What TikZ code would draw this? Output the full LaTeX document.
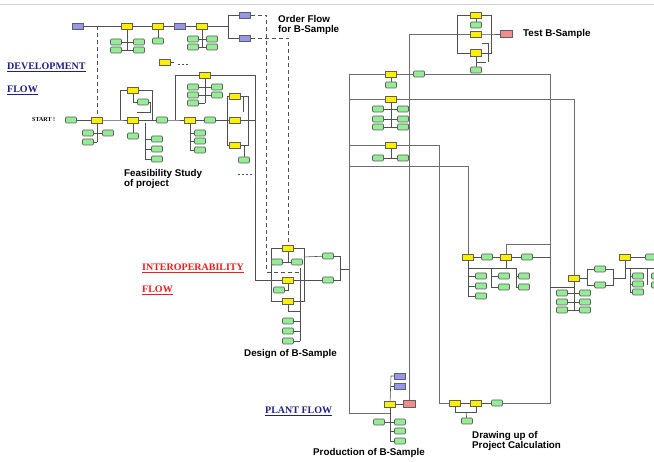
\documentclass[tikz,border=0pt]{standalone}
\usepackage{fontspec}
\newfontfamily\lsans{Liberation Sans}
\newfontfamily\lserif{Liberation Serif}
\usetikzlibrary{backgrounds}
\definecolor{ylw}{RGB}{255,240,0}
\definecolor{grn}{RGB}{150,235,150}
\definecolor{blu}{RGB}{150,150,235}
\definecolor{pnk}{RGB}{240,140,140}
\definecolor{edg}{RGB}{95,95,95}
\definecolor{lnc}{RGB}{80,80,80}
\definecolor{spc}{RGB}{110,110,110}
\definecolor{dblue}{RGB}{30,30,140}
\definecolor{fred}{RGB}{240,30,30}
\tikzset{
 box/.style={draw=edg, line width=.7pt, minimum width=11pt, minimum height=6pt, inner sep=0pt, outer sep=0pt},
 yb/.style={box, fill=ylw},
 gb/.style={box, fill=grn, rounded corners=1pt},
 bb/.style={box, fill=blu},
 pb/.style={box, fill=pnk, minimum width=12pt, minimum height=7pt},
 ln/.style={draw=lnc, line width=.6pt},
 sp/.style={draw=spc, line width=.9pt},
 dl/.style={draw=lnc, line width=.7pt, dash pattern=on 4pt off 3pt},
 lbl/.style={font=\lsans\bfseries\fontsize{9.8}{10.5}\selectfont, align=left, inner sep=0pt, anchor=west},
 flowtxt/.style={font=\lserif\bfseries\fontsize{10}{12}\selectfont, inner sep=0pt, anchor=west},
}
\begin{document}
\begin{tikzpicture}[x=1pt,y=-1pt]
\useasboundingbox (0,0) rectangle (654,462);

% ---------- texts ----------
\node[flowtxt, text=dblue] (tdev) at (7,67) {\underline{DEVELOPMENT}};
\node[flowtxt, text=dblue] (tdevf) at (7,90) {\underline{FLOW}};
\node[flowtxt, text=fred] (tint) at (142,268) {\underline{INTEROPERABILITY}};
\node[flowtxt, text=fred] (tintf) at (142,290) {\underline{FLOW}};
\node[flowtxt, text=dblue] (tplant) at (265,411) {\underline{PLANT FLOW}};
\node[font=\lserif\bfseries\fontsize{6}{6}\selectfont, inner sep=0pt, anchor=west] (start) at (32,120) {START !};
\node[lbl] (tord) at (278,25) {Order Flow\\for B-Sample};
\node[lbl] (tfeas) at (124,179) {Feasibility Study\\of project};
\node[lbl] (ttest) at (523,34) {Test B-Sample};
\node[lbl] (tdes) at (244,354) {Design of B-Sample};
\node[lbl] (tprod) at (313,453) {Production of B-Sample};
\node[lbl] (tdraw) at (472,441) {Drawing up of\\Project Calculation};

% ---------- top order chain ----------
\node[bb] (b1) at (78,26) {};
\node[yb] (y1) at (127,26) {};
\node[yb] (y2) at (158,26) {};
\node[bb] (b2) at (180,26) {};
\node[yb] (y3) at (202,26) {};
\node[bb] (b3) at (245,15) {};
\node[bb] (b4) at (245,38) {};
\node[gb] (g1a) at (116,42) {};
\node[gb] (g1b) at (116,50) {};
\node[gb] (g1c) at (139,42) {};
\node[gb] (g1d) at (139,50) {};
\node[gb] (g2) at (158,41) {};
\node[gb] (g3a) at (193,39) {};
\node[gb] (g3b) at (193,47) {};
\node[gb] (g3c) at (212,39) {};
\node[gb] (g3d) at (212,47) {};
\coordinate (j0) at (97,26);
\coordinate (j1) at (228,26);

% ---------- development main ----------
\node[gb] (g0) at (71,120) {};
\node[yb] (s2) at (97,120) {};
\node[gb] (s2a) at (88,133) {};
\node[gb] (s2b) at (88,142) {};
\node[gb] (s2c) at (108,133) {};
\node[yb] (a1) at (133,90) {};
\node[yb] (a2) at (133,120) {};
\node[gb] (a3) at (133,136) {};
\node[gb] (a4) at (143,102) {};
\node[gb] (a5) at (157,139) {};
\node[gb] (a6) at (157,149) {};
\node[gb] (a7) at (157,159) {};
\node[gb] (a8) at (162,120) {};
\node[yb] (c0) at (165,62) {};
\node[yb] (c1) at (205,75) {};
\node[gb] (c1a) at (193,87) {};
\node[gb] (c1b) at (193,95) {};
\node[gb] (c1c) at (193,103) {};
\node[gb] (c1d) at (217,87) {};
\node[gb] (c1e) at (217,95) {};
\node[yb] (c2) at (190,120) {};
\node[gb] (c2a) at (200,133) {};
\node[gb] (c2b) at (200,141) {};
\node[gb] (c2c) at (200,150) {};
\node[gb] (c3) at (210,120) {};
\node[yb] (c4) at (235,96) {};
\node[yb] (c5) at (235,120) {};
\node[yb] (c6) at (235,145) {};
\node[gb] (c7) at (244,160) {};
\coordinate (j2) at (120,120);
\coordinate (j3) at (175,120);
\coordinate (j4) at (227,120);

% ---------- design cluster ----------
\node[yb] (D1) at (288,248) {};
\node[gb] (Dg1) at (277,262) {};
\node[gb] (Dg2) at (297,262) {};
\node[yb] (D2) at (288,280) {};
\node[gb] (Dg3) at (279,290) {};
\node[yb] (D3) at (288,301) {};
\node[gb] (Dg4) at (288,321) {};
\node[gb] (Dg5) at (288,331) {};
\node[gb] (Dg6) at (288,341) {};
\node[gb] (Eg1) at (328,256) {};
\node[gb] (Eg2) at (328,280) {};

% ---------- test cluster ----------
\node[yb] (T1) at (476,15) {};
\node[gb] (Tg1) at (476,25) {};
\node[yb] (T2) at (476,34) {};
\node[yb, minimum height=7pt] (T3) at (476,53) {};
\node[gb] (Tg2) at (476,70) {};
\node[pb] (Tp) at (506,34) {};

% ---------- spine clusters ----------
\node[yb] (Ry1) at (391,74) {};
\node[gb] (Ryg) at (391,85) {};
\node[gb] (Rg2) at (419,74) {};
\node[yb] (Ry2) at (391,99) {};
\node[gb] (R2a) at (378,109) {};
\node[gb] (R2b) at (378,119) {};
\node[gb] (R2c) at (378,127) {};
\node[gb] (R2d) at (403,109) {};
\node[gb] (R2e) at (403,119) {};
\node[gb] (R2f) at (403,127) {};
\node[yb] (Ry3) at (391,145) {};
\node[gb] (R3a) at (378,158) {};
\node[gb] (R3b) at (403,158) {};

% ---------- production ----------
\node[yb] (PrY) at (390,404) {};
\node[pb] (Pk) at (409,404) {};
\node[bb] (Prb1) at (400,376) {};
\node[bb] (Prb2) at (400,386) {};
\node[gb] (Prg1) at (379,422) {};
\node[gb] (Prg2) at (400,422) {};
\node[gb] (Prg3) at (400,431) {};
\node[gb] (Prg4) at (400,441) {};

% ---------- drawing up ----------
\node[yb] (Bx1) at (455,403) {};
\node[yb] (Bx2) at (476,403) {};
\node[gb] (Bg3) at (497,403) {};
\node[gb] (Bg4) at (467,421) {};

% ---------- right cluster ----------
\node[yb] (P1) at (468,257) {};
\node[gb] (Pg1) at (487,257) {};
\node[yb] (P2) at (506,257) {};
\node[gb] (Pg2) at (527,257) {};
\node[gb] (Pg3) at (481,276) {};
\node[gb] (Pg4) at (481,286) {};
\node[gb] (Pg5) at (481,296) {};
\node[gb] (Pg6) at (504,276) {};
\node[gb] (Pg7) at (504,287) {};
\node[gb] (Pg8) at (524,276) {};
\node[gb] (Pg9) at (524,287) {};
\node[yb] (Q1) at (574,278) {};
\node[gb] (Qg1) at (600,269) {};
\node[gb] (Qg2) at (600,285) {};
\node[gb] (Qg3) at (562,293) {};
\node[gb] (Qg4) at (562,302) {};
\node[gb] (Qg5) at (562,310) {};
\node[gb] (Qg6) at (585,293) {};
\node[gb] (Qg7) at (585,302) {};
\node[gb] (Qg8) at (585,310) {};
\node[yb] (R1) at (625,257) {};
\node[gb] (Rg0) at (651,257) {};
\node[gb] (Rg1) at (638,276) {};
\node[gb] (Rg2b) at (638,284) {};
\node[gb] (Rg3) at (638,292) {};
\node[gb] (Rg4) at (657,276) {};
\node[gb] (Rg5) at (657,285) {};

% ================= connectors =================
\begin{scope}[on background layer]
\fill[white] (0,0) rectangle (654,462);
\draw[gray!35, line width=.8pt] (0,4) -- (654,4);

% top chain
\draw[ln] (b1) -- (y1);
\draw[ln] (y1) -- (y2);
\draw[ln] (y2) -- (b2);
\draw[ln] (b2) -- (y3);
\draw[ln] (y3) -- (j1);
\draw[ln] (j1) |- (b3);
\draw[ln] (j1) |- (b4);
\draw[ln] (y1) -- (127,50);
\draw[ln] (g1a) -- (g1c);
\draw[ln] (g1b) -- (g1d);
\draw[ln] (y2) -- (g2);
\draw[ln] (y3) -- (202,47);
\draw[ln] (g3a) -- (g3c);
\draw[ln] (g3b) -- (g3d);
\draw[dl] (j0) -- (s2);
\draw[dl] (b3) -| (266,272) -- (300,272);
\draw[dl] (b4) -| (D1);

% development main
\draw[ln] (g0) -- (s2);
\draw[ln] (s2) -- (97,142);
\draw[ln] (s2a) -- (s2c);
\draw[ln] (s2b) -- (97,142);
\draw[ln] (s2) -- (j2) -- (a2);
\draw[ln] (j2) |- (a1);
\draw[ln] (a1) -| (152,120);
\draw[ln] (a2) -- (a8);
\draw[ln] (a1) |- (a4);
\draw[ln] (a4) -| (150,112) -- (137,112);
\draw[ln] (a2) -- (a3);
\draw[ln] (145,123) |- (a7);
\draw[ln] (145,139) -- (a5);
\draw[ln] (145,149) -- (a6);
\draw[ln] (c0) -- (174,62);
\draw[dl, line width=.5pt, dash pattern=on 2pt off 2pt] (178,64) -- (190,64);
\draw[ln] (a8) -- (j3) -- (c2);
\draw[ln] (j3) |- (c1);
\draw[ln] (c1) -- (255,75) -- (255,280) -- (D2);
\draw[ln] (c1) -- (205,103);
\draw[ln] (c1a) -- (c1d);
\draw[ln] (c1b) -- (c1e);
\draw[ln] (c1c) -- (205,103);
\draw[ln] (c2) |- (c2c);
\draw[ln] (190,133) -- (c2a);
\draw[ln] (190,141) -- (c2b);
\draw[ln] (c2) -- (c3) -- (j4);
\draw[ln] (j4) |- (c4);
\draw[ln] (j4) |- (c6);
\draw[ln] (j4) -- (c5);
\draw[ln] (c4) -| (248,145) -- (c6);
\draw[ln] (c5) -- (255,120);
\draw[ln] (c6.east) -| (c7);
\draw[ln] (c4.east) -| (243,112);
\draw[dl, line width=.5pt, dash pattern=on 2pt off 2pt] (238,174) -- (252,174);

% design cluster
\draw[ln] (D1) -- (271,248) |- (D3);
\draw[ln] (D1) -- (304,248) |- (D3);
\draw[ln] (D1) -- (288,262);
\draw[ln] (Dg1) -- (Dg2);
\draw[ln] (304,257) -- (Eg1);
\draw[ln] (D2) -- (Eg2);
\draw[ln] (Eg1) -| (340,280) -- (Eg2);
\draw[ln] (340,269) -- (349,269);
\draw[ln] (D2) |- (Dg3);
\draw[ln] (D3) -- (288,311) -- (300,311);
\draw[ln] (300,268) -- (300,341);
\draw[ln] (Dg4) -- (300,321);
\draw[ln] (Dg5) -- (300,331);
\draw[ln] (Dg6) -- (300,341);

% spine and long lines
\draw[sp] (349,74) -- (349,413) -- (390,413);
\draw[sp] (349,74) -- (Ry1);
\draw[sp] (Ry1) -- (Rg2);
\draw[sp] (Rg2) -- (550,74) -- (550,403) -- (Bg3);
\draw[sp] (349,99) -- (Ry2);
\draw[sp] (Ry2) -- (574,99) -- (Q1);
\draw[sp] (349,145) -- (Ry3);
\draw[sp] (Ry3) -- (439,145) -- (439,403) -- (Bx1);
\draw[sp] (349,166) -- (468,166) -- (P1);
\draw[sp] (T2) -- (409,34) -- (Pk);

% spine clusters
\draw[ln] (Ry1) -- (Ryg);
\draw[ln] (Ry2) -- (391,127);
\draw[ln] (R2a) -- (R2d);
\draw[ln] (R2b) -- (R2e);
\draw[ln] (R2c) -- (R2f);
\draw[ln] (Ry3) -- (391,158);
\draw[ln] (R3a) -- (R3b);

% test cluster
\draw[ln] (T1) -- (Tg1);
\draw[ln] (T3) -- (Tg2);
\draw[ln] (T1) -- (457,15) |- (T3);
\draw[ln] (T1) -- (491,15) |- (T3);
\draw[ln] (T2) -- (491,34) -- (Tp);
\draw[ln] (482,43) -- (488,43) -- (488,62);
\draw[ln] (476,62) -- (486,62);

% production
\draw[ln] (PrY) -- (Pk);
\draw[ln] (PrY) -- (391,376) -- (Prb1);
\draw[ln] (391,386) -- (Prb2);
\draw[ln] (PrY) -- (390,441) -- (Prg4);
\draw[ln] (Prg1) -- (Prg2);
\draw[ln] (390,431) -- (Prg3);

% drawing up
\draw[ln] (Bx1) -- (Bx2);
\draw[ln] (Bx2) -- (Bg3);
\draw[ln] (Bx1.south) -- ++(0,6) -| (Bx2.south);
\draw[ln] (466,412) -- (Bg4);

% right cluster
\draw[ln] (P1) -- (Pg1);
\draw[ln] (Pg1) -- (P2);
\draw[ln] (P2) -- (Pg2);
\draw[ln] (Pg2) -- (550,257);
\draw[sp] (P2) |- (550,244);
\draw[ln] (P1) -- (468,296) -- (Pg5);
\draw[ln] (468,276) -- (Pg3);
\draw[ln] (468,286) -- (Pg4);
\draw[ln] (468,268) -- (516,268);
\draw[ln] (P2) -- (506,268);
\draw[ln] (491,268) |- (Pg7);
\draw[ln] (491,276) -- (Pg6);
\draw[ln] (516,268) |- (Pg9);
\draw[ln] (516,276) -- (Pg8);
\draw[ln] (550,287) -- (574,287);
\draw[ln] (Q1) -- (574,310);
\draw[ln] (Qg3) -- (Qg6);
\draw[ln] (Qg4) -- (Qg7);
\draw[ln] (Qg5) -- (Qg8);
\draw[ln] (Q1) -- (587,278);
\draw[ln] (Qg1) -| (587,285) -- (Qg2);
\draw[ln] (Qg1) -| (613,285) -- (Qg2);
\draw[ln] (613,278) -| (R1);
\draw[ln] (R1) -- (Rg0);
\draw[ln] (625,268) -- (654,268);
\draw[ln] (630,268) -- (630,292) -- (Rg3);
\draw[ln] (630,276) -- (Rg1);
\draw[ln] (630,284) -- (Rg2b);
\draw[ln] (647,268) -- (647,285);
\end{scope}
\end{tikzpicture}
\end{document}
